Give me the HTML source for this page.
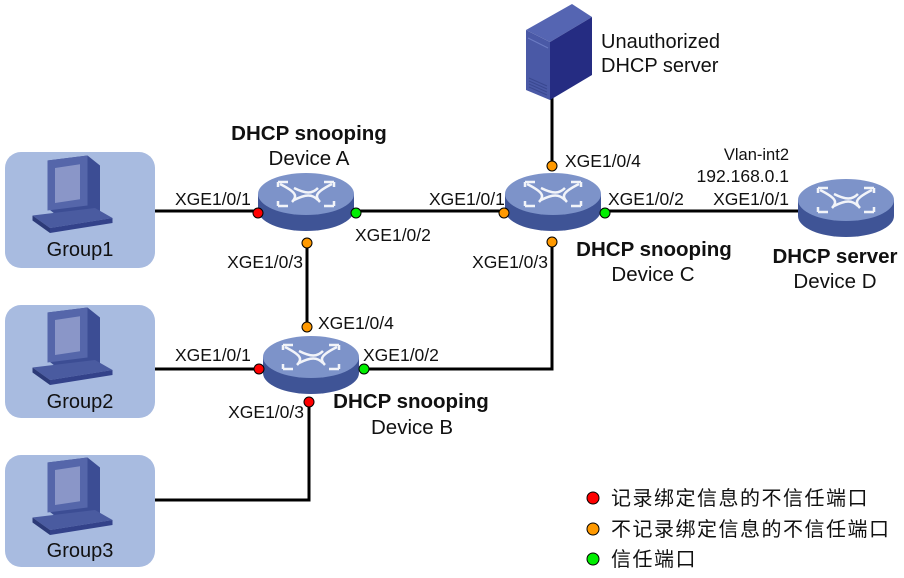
<!DOCTYPE html>
<html><head><meta charset="utf-8"><style>
html,body{margin:0;padding:0;background:#fff;}
svg{display:block;}
text{font-family:"Liberation Sans","Noto Sans CJK SC",sans-serif;fill:#111;}
</style></head><body>
<svg width="904" height="578" viewBox="0 0 904 578" xmlns="http://www.w3.org/2000/svg">
<defs>
<g id="rt">
  <path d="M-48,0 L-48,16 A48,21 0 0 0 48,16 L48,0 Z" fill="#3f5496"/>
  <ellipse cx="0" cy="0" rx="48" ry="21" fill="#7d93c9"/>
  <g stroke="#fff" stroke-width="2.5" fill="none" opacity="0.9">
    <path d="M-28,-12 l10,0 M-28,-12 l0,5 M28,-12 l-10,0 M28,-12 l0,5 M-28,12 l10,0 M-28,12 l0,-5 M28,12 l-10,0 M28,12 l0,-5"/>
    <path d="M-26,-10 C-10,-2 -8,2 -14,8 M26,-10 C10,-2 8,2 14,8 M-12,-6 C0,0 6,0 12,-6 M-12,6 C0,0 6,0 12,6"/>
  </g>
</g>
<g id="pc">
  <path d="M-18,-30 L14,-34 L24,-26 L24,12 L-8,16 L-18,8 Z" fill="#3c4d94"/>
  <path d="M-18,-30 L14,-34 L14,6 L-18,10 Z" fill="#5566aa"/>
  <path d="M-12,-24 L8,-27 L8,1 L-12,4 Z" fill="#8a96c8"/>
  <path d="M-30,14 L20,8 L34,16 L-16,24 Z" fill="#4a5ba0"/>
  <path d="M-30,14 L-16,24 L-16,28 L-30,18 Z" fill="#2c3a78"/>
  <path d="M-16,24 L34,16 L34,20 L-16,28 Z" fill="#33428a"/>
</g>
</defs>

<rect x="5" y="152" width="150" height="116" rx="16" fill="#a8bbe0"/>
<rect x="5" y="305" width="150" height="113" rx="16" fill="#a8bbe0"/>
<rect x="5" y="455" width="150" height="112" rx="16" fill="#a8bbe0"/>
<use href="#pc" transform="translate(70,198) scale(1.25)"/>
<use href="#pc" transform="translate(70,350) scale(1.25)"/>
<use href="#pc" transform="translate(70,500) scale(1.25)"/>
<text x="80" y="256" font-size="20" text-anchor="middle">Group1</text>
<text x="80" y="408" font-size="20" text-anchor="middle">Group2</text>
<text x="80" y="557" font-size="20" text-anchor="middle">Group3</text>

<g stroke="#000" stroke-width="3" fill="none">
  <path d="M155,211 H258"/>
  <path d="M355,211 H505"/>
  <path d="M603,211 H800"/>
  <path d="M307,240 V322"/>
  <path d="M155,369 H262"/>
  <path d="M360,369 H552 V240"/>
  <path d="M552,95 V165"/>
  <path d="M155,500 H309 V402"/>
</g>

<!-- server -->
<path d="M526,30 L572,4 L592,17 L550,42 Z" fill="#5565b2"/>
<path d="M550,42 L592,17 L592,75 L550,100 Z" fill="#252c82"/>
<path d="M526,30 L550,42 L550,100 L526,90 Z" fill="#4a59a6"/>
<path d="M528,38 L548,48" stroke="#6c7cc4" stroke-width="1"/>
<path d="M529,78 L547,86 M529,81 L547,89 M529,84 L547,92 M529,87 L547,95" stroke="#3a4890" stroke-width="1"/>
<text x="601" y="48" font-size="20">Unauthorized</text>
<text x="601" y="72" font-size="20">DHCP server</text>

<use href="#rt" x="306" y="194"/>
<use href="#rt" x="553" y="194"/>
<use href="#rt" x="311" y="357"/>
<use href="#rt" x="846" y="200"/>

<g stroke="#000" stroke-width="1">
  <circle cx="258" cy="213" r="5" fill="#f00"/>
  <circle cx="356" cy="213" r="5" fill="#0e0"/>
  <circle cx="307" cy="243" r="5" fill="#f90"/>
  <circle cx="552" cy="166" r="5" fill="#f90"/>
  <circle cx="504" cy="213" r="5" fill="#f90"/>
  <circle cx="605" cy="213" r="5" fill="#0e0"/>
  <circle cx="552" cy="242" r="5" fill="#f90"/>
  <circle cx="307" cy="327" r="5" fill="#f90"/>
  <circle cx="259" cy="369" r="5" fill="#f00"/>
  <circle cx="364" cy="369" r="5" fill="#0e0"/>
  <circle cx="309" cy="402" r="5" fill="#f00"/>
  <circle cx="593" cy="498" r="6" fill="#f00"/>
  <circle cx="593" cy="529" r="6" fill="#f90"/>
  <circle cx="593" cy="559" r="6" fill="#0e0"/>
</g>

<g font-size="17.5">
<text x="175" y="205">XGE1/0/1</text>
<text x="355" y="241">XGE1/0/2</text>
<text x="303" y="268" text-anchor="end">XGE1/0/3</text>
<text x="429" y="205">XGE1/0/1</text>
<text x="565" y="167">XGE1/0/4</text>
<text x="608" y="205">XGE1/0/2</text>
<text x="548" y="268" text-anchor="end">XGE1/0/3</text>
<text x="789" y="205" text-anchor="end">XGE1/0/1</text>
<text x="789" y="182" text-anchor="end">192.168.0.1</text>
<text x="789" y="160" text-anchor="end" font-size="16.5">Vlan-int2</text>
<text x="318" y="329">XGE1/0/4</text>
<text x="175" y="361">XGE1/0/1</text>
<text x="363" y="361">XGE1/0/2</text>
<text x="304" y="418" text-anchor="end">XGE1/0/3</text>
</g>
<g font-size="20.5" text-anchor="middle">
<text x="309" y="140" font-weight="bold">DHCP snooping</text>
<text x="309" y="165">Device A</text>
<text x="654" y="256" font-weight="bold">DHCP snooping</text>
<text x="653" y="281">Device C</text>
<text x="411" y="408" font-weight="bold">DHCP snooping</text>
<text x="412" y="434">Device B</text>
<text x="835" y="263" font-weight="bold">DHCP server</text>
<text x="835" y="288">Device D</text>
</g>
<g font-size="20" letter-spacing="1.5">
<text x="611" y="505">记录绑定信息的不信任端口</text>
<text x="611" y="536">不记录绑定信息的不信任端口</text>
<text x="611" y="566">信任端口</text>
</g>
</svg>
</body></html>
